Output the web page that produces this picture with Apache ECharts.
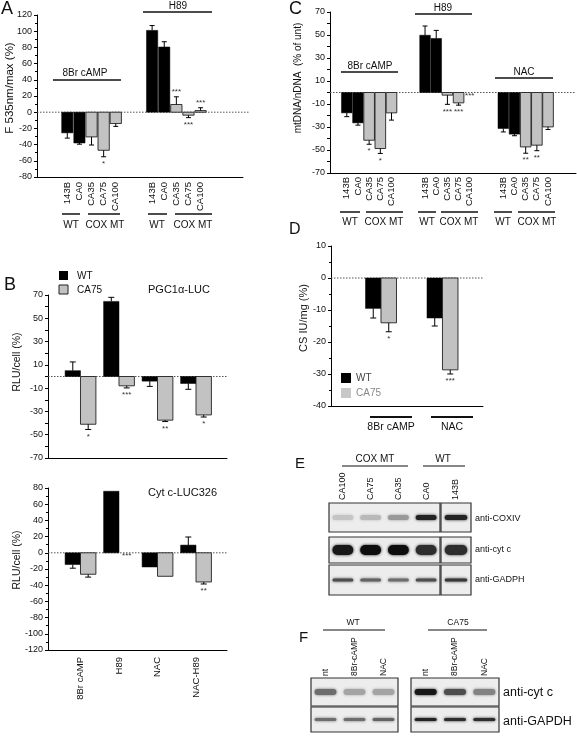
<!DOCTYPE html>
<html><head><meta charset="utf-8">
<script src="https://cdn.jsdelivr.net/npm/echarts@6/dist/echarts.min.js"></script>
<style>html,body{margin:0;padding:0;background:#fff}#c{width:577px;height:740px}</style>
</head><body><div id="c"></div>
<script>
const FONT = '"Liberation Sans", Arial, Helvetica, sans-serif';
const GRAY = '#c2c2c2';

// ---------- Panel A : F 535nm/max (%)
const aLines = ['143B','CA0','CA35','CA75','CA100'];
const aTreat = ['8Br cAMP','H89'];
const aCAMP = [-25.5,-38,-30.5,-47,-14];
const aCAMPErr = [6.5,1.5,10,8,3.5];
const aCAMPSig = ['','','','*',''];
const aH89 = [101,80.5,9.5,-3.7,2];
const aH89Err = [6,6.5,9.5,3,3.5];
const aH89Sig = ['','','***','***','***'];
const aStartSlot = [2, 9];
const aSlotCount = 17;

// ---------- Panel C : mtDNA/nDNA (% of unt)
const cTreat = ['8Br cAMP','H89','NAC'];
const cCAMP = [-17.7,-26.4,-41.5,-48.7,-17.7];
const cCAMPErr = [3.3,2,3.5,4.3,6.3];
const cCAMPSig = ['','','*','*',''];
const cH89 = [49.8,47,-2.3,-9,0];
const cH89Err = [8,7,8,2,0];
const cH89Sig = ['','','***','***','***'];
const cNAC = [-31.3,-36.2,-47.3,-45.8,-29.9];
const cNACErr = [3,1.4,5.5,4.8,2.3];
const cNACSig = ['','','**','**',''];
const cStartSlot = [1, 8, 15];
const cSlotCount = 22;

// ---------- Panel B : RLU/cell (%)
const bTreat = ['8Br cAMP','H89','NAC','NAC-H89'];
const pgcWT = [5,64.5,-4,-6];
const pgcWTErr = [7.5,3.5,4.5,5];
const pgcCA75 = [-41,-8,-37.5,-33];
const pgcCA75Err = [4.5,1.8,1.2,1.8];
const pgcSig = ['*','***','**','*'];
const cytWT = [-14.5,76,-17.5,9.5];
const cytWTErr = [4.5,0,0,10];
const cytCA75 = [-26.5,0,-29,-36];
const cytCA75Err = [3.5,0,0,2.5];
const cytSig = ['','***','','**'];

// ---------- Panel D : CS IU/mg (%)
const dTreat = ['8Br cAMP','NAC'];
const dWT = [-9.5,-12.5];
const dWTErr = [3,2.5];
const dCA75 = [-14,-28.7];
const dCA75Err = [2.8,1.3];
const dSig = ['*','***'];
const dTicks = [10,0,-10,-20,-30,-40];

// ---------- Panel E / F : blot band intensities (0..1)
const eLanesMT = ['CA100','CA75','CA35','CA0'];
const eLanesWT = ['143B'];
const eCOXIV = [0.15,0.2,0.35,0.9,0.9];
const eCytC = [0.95,1,1,0.85,0.85];
const eGADPH = [0.7,0.6,0.55,0.7,0.8];
const fLanes = ['nt','8Br-cAMP','NAC'];
const fCytC_WT = [0.55,0.3,0.3];
const fCytC_CA75 = [0.95,0.7,0.45];
const fGAPDH_WT = [0.55,0.55,0.6];
const fGAPDH_CA75 = [0.9,0.85,0.85];

// ================= builders
function buildCats(count, starts, lines){
  const arr = new Array(count).fill('');
  starts.forEach(s => lines.forEach((l,i) => { arr[s+i] = l; }));
  return arr;
}
function barsSeries(gi, items, widthFn, capW){
  return {type:'custom', xAxisIndex:gi, yAxisIndex:gi, clip:false, z:3,
    data: items.map(it => [it.x, it.v, it.e, it.gray?1:0, it.shift||0]),
    renderItem(params, api){
      const it = items[params.dataIndex];
      const x=api.value(0), v=api.value(1), e=api.value(2), g=api.value(3), sh=api.value(4);
      const bw = widthFn(api);
      const p0 = api.coord([x,0]); const p1 = api.coord([x,v]);
      const dir = v<0 ? -1 : 1;
      const p2 = api.coord([x, v + dir*e]);
      const cx = p0[0] + sh*bw;
      const ch = [];
      const h = Math.abs(p1[1]-p0[1]);
      if (h > 0.3) ch.push({type:'rect', shape:{x:cx-bw/2, y:Math.min(p0[1],p1[1]), width:bw, height:h},
        style:{fill:g?GRAY:'#000', stroke:g?'#222':'#000', lineWidth:g?0.9:0.5}});
      if (e > 0){
        ch.push({type:'line', shape:{x1:cx,y1:p1[1],x2:cx,y2:p2[1]}, style:{stroke:'#000', lineWidth:1}});
        ch.push({type:'line', shape:{x1:cx-capW/2,y1:p2[1],x2:cx+capW/2,y2:p2[1]}, style:{stroke:'#000', lineWidth:1}});
      }
      if (it.sig){
        let y, va;
        if (v > 0){ y = p2[1]-1; va = 'bottom'; }
        else if (v < 0){ y = p2[1]+3; va = 'top'; }
        else { y = p0[1]+3; va = 'middle'; }
        ch.push({type:'text', x:cx, y, style:{text:it.sig, fontSize:8, fontFamily:FONT, fill:'#333', align:'center', verticalAlign:va}});
      }
      return {type:'group', children:ch};
    }};
}
function zeroSeries(gi, x0, extra){
  return {type:'custom', xAxisIndex:gi, yAxisIndex:gi, z:2, clip:false, data:[[x0,0]],
    renderItem(params, api){
      const cs = params.coordSys;
      const y = api.coord([api.value(0),0])[1];
      return {type:'line', shape:{x1:cs.x, y1:y, x2:cs.x+cs.width+(extra||0), y2:y}, style:{stroke:'#555', lineWidth:1, lineDash:[1.5,1.5]}};
    }};
}
function groupedItems(wt, wtErr, ca, caErr, sig){
  const out = [];
  wt.forEach((v,i) => {
    out.push({x:i, v, e:wtErr[i], gray:false, shift:-0.5, sig:''});
    out.push({x:i, v:ca[i], e:caErr[i], gray:true, shift:0.5, sig:sig[i]});
  });
  return out;
}
function yAx(gi, min, max, interval, fmt, minor, showLabels){
  return {type:'value', gridIndex:gi, min, max, interval,
    axisLine:{show:true, onZero:false, lineStyle:{color:'#000', width:1}},
    axisTick:{show:true, length:3, lineStyle:{color:'#000'}},
    minorTick: minor ? {show:true, splitNumber:2, length:2, lineStyle:{color:'#000'}} : {show:false},
    splitLine:{show:false},
    axisLabel:{show: showLabels !== false, fontSize:9, color:'#111', fontFamily:FONT, margin:5, formatter: fmt, showMinLabel:true, showMaxLabel:true, hideOverlap:false}};
}
function catX(gi, cats, margin){
  return {type:'category', gridIndex:gi, data:cats,
    axisLine:{show:true, onZero:false, lineStyle:{color:'#000'}},
    axisTick:{show:false}, splitLine:{show:false},
    axisLabel:{show:true, interval:0, rotate:90, fontSize:9.5, color:'#111', fontFamily:FONT, margin}};
}
function valX(gi, min, max){
  return {type:'value', gridIndex:gi, min, max,
    axisLine:{show:true, onZero:false, lineStyle:{color:'#000'}},
    axisTick:{show:false}, axisLabel:{show:false}, splitLine:{show:false}, minorTick:{show:false}};
}
const oddFmt = v => ((v + 70) % 20 === 0 ? String(v) : '');

// ================= grids / axes / series
const grids = [
  {left:37, top:15, width:206, height:162},    // 0 A
  {left:330, top:12, width:246, height:161},   // 1 C
  {left:48, top:295, width:179, height:163},   // 2 B top
  {left:48, top:488, width:179, height:162},   // 3 B bottom
  {left:331, top:246, width:152, height:160}   // 4 D
];
const dXMin = -0.813, dXMax = 1.659;
const xAxes = [
  catX(0, buildCats(aSlotCount, aStartSlot, aLines), 5),
  catX(1, buildCats(cSlotCount, cStartSlot, aLines), 4),
  valX(2, -0.844, 3.805),
  valX(3, -0.844, 3.805),
  valX(4, dXMin, dXMax)
];
const yAxes = [
  yAx(0, -80, 120, 20, undefined, true),
  yAx(1, -70, 70, 10, oddFmt, false),
  yAx(2, -70, 70, 10, oddFmt, false),
  yAx(3, -120, 80, 20, undefined, true),
  yAx(4, -40, 10, 10, undefined, true, false)
];

const aItems = [];
[[aCAMP,aCAMPErr,aCAMPSig],[aH89,aH89Err,aH89Sig]].forEach((g,gi) =>
  aLines.forEach((l,li) => aItems.push({x:aStartSlot[gi]+li, v:g[0][li], e:g[1][li], gray:li>=2, sig:g[2][li]})));
const cItems = [];
[[cCAMP,cCAMPErr,cCAMPSig],[cH89,cH89Err,cH89Sig],[cNAC,cNACErr,cNACSig]].forEach((g,gi) =>
  aLines.forEach((l,li) => {
    cItems.push({x:cStartSlot[gi]+li, v:g[0][li], e:g[1][li], gray:li>=2, sig:g[2][li]});
  }));

const series = [
  zeroSeries(0,0,7), zeroSeries(1,0), zeroSeries(2,0), zeroSeries(3,0), zeroSeries(4,0),
  barsSeries(0, aItems, api => api.size([1,0])[0]*0.93, 5),
  barsSeries(1, cItems, api => api.size([1,0])[0]*0.95, 5),
  barsSeries(2, groupedItems(pgcWT,pgcWTErr,pgcCA75,pgcCA75Err,pgcSig), api => api.size([1,0])[0]*0.4, 6),
  barsSeries(3, groupedItems(cytWT,cytWTErr,cytCA75,cytCA75Err,cytSig), api => api.size([1,0])[0]*0.4, 6),
  barsSeries(4, groupedItems(dWT,dWTErr,dCA75,dCA75Err,dSig), api => api.size([1,0])[0]*0.252, 6),
  {type:'custom', xAxisIndex:3, yAxisIndex:3, clip:false, z:4,
   data: bTreat.map((t,i) => [i, -120]),
   renderItem(params, api){
     const p = api.coord([api.value(0), api.value(1)]);
     return {type:'text', x:p[0], y:p[1]+7, rotation:Math.PI/2,
       style:{text:bTreat[params.dataIndex], fontSize:9.5, fontFamily:FONT, fill:'#111', align:'right', verticalAlign:'middle'}};
   }},
  // D tick labels drawn from the tick array through the axis scale
  {type:'custom', xAxisIndex:4, yAxisIndex:4, clip:false, z:5,
   data: dTicks.map(v => [dXMin, v]),
   renderItem(params, api){
     const p = api.coord([api.value(0), api.value(1)]);
     return {type:'text', x:p[0]-5, y:p[1], silent:true,
       style:{text:String(dTicks[params.dataIndex]), fontSize:9, fontFamily:FONT, fill:'#111', align:'right', verticalAlign:'middle'}};
   }}
];

// ---------- blots
function blot(left, top, width, height, lanes, vals, bandH, labels, labelMargin, labelSize){
  const gi = grids.length;
  grids.push({left, top, width, height, show:true, backgroundColor:'#ededed', borderColor:'#333', borderWidth:1.2});
  xAxes.push({type:'category', gridIndex:gi, data:lanes, position:'top',
    axisLine:{show:false}, axisTick:{show:false}, splitLine:{show:false},
    axisLabel:{show:labels, interval:0, rotate:90, fontSize:labelSize, color:'#111', fontFamily:FONT, margin:labelMargin}});
  yAxes.push({type:'value', gridIndex:gi, min:0, max:1, show:false});
  series.push({type:'custom', xAxisIndex:gi, yAxisIndex:gi, z:3,
    data: vals.map((v,i) => [i, v]),
    renderItem(params, api){
      const p = api.coord([api.value(0), 0.5]);
      const w = api.size([1,0])[0]*0.75;
      const I = api.value(1);
      const c = Math.round(228 - 215*I);
      const col = 'rgb('+c+','+c+','+c+')';
      return {type:'rect', shape:{x:p[0]-w/2, y:p[1]-bandH/2, width:w, height:bandH, r:bandH/2},
        style:{fill:col, shadowBlur:3, shadowColor:col}};
    }});
}
blot(329, 503, 111, 29, eLanesMT, eCOXIV.slice(0,4), 5, true, 3, 9);
blot(441, 503, 30, 29, eLanesWT, eCOXIV.slice(4), 5, true, 3, 9);
blot(329, 537, 111, 26, eLanesMT, eCytC.slice(0,4), 10, false, 3, 9);
blot(441, 537, 30, 26, eLanesWT, eCytC.slice(4), 10, false, 3, 9);
blot(329, 565, 111, 30, eLanesMT, eGADPH.slice(0,4), 3, false, 3, 9);
blot(441, 565, 30, 30, eLanesWT, eGADPH.slice(4), 3, false, 3, 9);
blot(311, 678, 87, 28, fLanes, fCytC_WT, 6, true, 2, 8.5);
blot(411, 678, 88, 28, fLanes, fCytC_CA75, 6, true, 2, 8.5);
blot(311, 707, 87, 25, fLanes, fGAPDH_WT, 3, false, 2, 8.5);
blot(411, 707, 88, 25, fLanes, fGAPDH_CA75, 3, false, 2, 8.5);

// ---------- annotations (text / brackets)
const G = [];
function T(x,y,text,size,o){ o=o||{}; G.push({type:'text', x, y, rotation:o.rot||0, z:100,
  style:{text, fontSize:size, fontFamily:FONT, fill:o.fill||'#111', align:o.align||'center', verticalAlign:o.va||'middle', fontWeight:o.weight||'normal'}}); }
function L(x1,y1,x2,y2,w,c){ G.push({type:'line', z:100, shape:{x1,y1,x2,y2}, style:{stroke:c||'#111', lineWidth:w||1.3}}); }
function R(x,y,w,h,fill,stroke){ G.push({type:'rect', z:100, shape:{x,y,width:w,height:h}, style:{fill, stroke:stroke||null, lineWidth:1}}); }

// panel letters
T(1, 9, 'A', 18, {align:'left'});
T(289, 9, 'C', 18, {align:'left'});
T(4, 285, 'B', 18, {align:'left'});
T(289, 230, 'D', 16, {align:'left'});
T(295, 464, 'E', 15, {align:'left'});
T(299, 638, 'F', 15, {align:'left'});

// y titles
T(10, 88, 'F 535nm/max (%)', 11.5, {rot:Math.PI/2});
T(298, 78, 'mtDNA/nDNA  (% of unt)', 10, {rot:Math.PI/2});
T(17, 362, 'RLU/cell (%)', 10.5, {rot:Math.PI/2});
T(17, 560, 'RLU/cell (%)', 10.5, {rot:Math.PI/2});
T(304, 318, 'CS IU/mg (%)', 11, {rot:Math.PI/2});

// A brackets
T(85, 73, aTreat[0], 10); L(53, 80, 121, 80);
T(178, 6.5, aTreat[1], 10); L(143, 12, 212, 12);
[[62,80,71,'WT'],[88,120,105,'COX MT'],[148,167,157,'WT'],[175,212,193,'COX MT']].forEach(a => { L(a[0],214,a[1],214,1.5); T(a[2],225,a[3],10); });

// C brackets
T(370, 66.5, cTreat[0], 10); L(341, 72, 398, 72);
T(443, 8.5, cTreat[1], 10); L(415, 14, 472, 14);
T(524, 72, cTreat[2], 10); L(495, 78, 553, 78);
[[340,360,350,'WT'],[366,403,384,'COX MT'],[418,436,427,'WT'],[441,478,459,'COX MT'],[494,512,503,'WT'],[518,555,537,'COX MT']].forEach(a => { L(a[0],212,a[1],212,1.5); T(a[2],222,a[3],10); });

// B legend and titles
R(59, 271, 9, 9, '#000');
T(77, 276, 'WT', 10, {align:'left'});
R(59, 285, 9, 9, GRAY, '#222');
T(77, 290, 'CA75', 10, {align:'left'});
T(148, 290, 'PGC1α-LUC', 11, {align:'left'});
T(148, 493, 'Cyt c-LUC326', 11, {align:'left'});

// D legend and group labels
R(341, 373, 10, 10, '#000');
T(356, 378, 'WT', 10, {align:'left', fill:'#444'});
R(341, 388, 10, 10, '#c8c8c8');
T(356, 393, 'CA75', 10, {align:'left', fill:'#888'});
L(370, 417, 412, 417, 2); T(391, 427, dTreat[0], 10.5);
L(431, 417, 473, 417, 2); T(452, 427, dTreat[1], 10.5);

// E headers and row labels
T(375, 459.5, 'COX MT', 10); L(342, 466, 408, 466, 1.2);
T(443, 459.5, 'WT', 10); L(423, 466, 465, 466, 1.2);
T(475, 518.5, 'anti-COXIV', 9, {align:'left'});
T(475, 549.5, 'anti-cyt c', 9, {align:'left'});
T(475, 580, 'anti-GADPH', 9, {align:'left'});

// F headers and row labels
T(353, 623, 'WT', 8.5); L(323, 630, 385, 630, 1.2);
T(458, 623, 'CA75', 8.5); L(428, 630, 487, 630, 1.2);
T(503, 693, 'anti-cyt c', 12.5, {align:'left'});
T(503, 722, 'anti-GAPDH', 12.5, {align:'left'});

const chart = echarts.init(document.getElementById('c'), null, {renderer:'canvas', width:577, height:740});
chart.setOption({
  animation:false,
  backgroundColor:'#fff',
  textStyle:{fontFamily:FONT},
  grid:grids, xAxis:xAxes, yAxis:yAxes, series,
  graphic:{elements:G}
});
</script></body></html>
